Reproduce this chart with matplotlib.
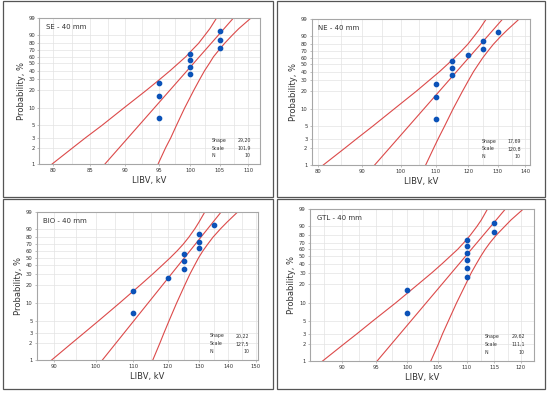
import numpy as np
import matplotlib.pyplot as plt
from matplotlib.patches import Rectangle

plt.rcParams['font.family'] = ['DejaVu Sans']

# plotting positions (median ranks, %) for the 10 points of every panel
prob_pts = [6.7, 16.3, 26.0, 35.6, 45.2, 54.8, 64.4, 74.0, 83.7, 93.3]

# measured LIBV values, kV
se_libv = [95, 95, 95, 100, 100, 100, 100, 105, 105, 105]
ne_libv = [110, 110, 110, 115, 115, 115, 120, 125, 125, 130]
bio_libv = [110, 110, 120, 125, 125, 125, 130, 130, 130, 135]
gtl_libv = [100, 100, 110, 110, 110, 110, 110, 110, 115, 115]

# fitted line, kV at 1 % and at 99 %
se_fit = [87.0, 107.3]
ne_fit = [93.2, 131.7]
bio_fit = [101.6, 137.5]
gtl_fit = [95.2, 117.0]

# 95 % confidence band (kV) at these probability levels (%)
band_p = [1, 2, 3, 5, 10, 20, 30, 40, 50, 60, 70, 80, 90, 95, 99]
se_lo = [79.8, 82.6, 84.3, 86.6, 89.7, 93.1, 95.2, 96.8, 98.1, 99.3, 100.3, 101.4, 102.5, 103.3, 104.4]
se_hi = [94.9, 96.1, 96.9, 97.8, 99.1, 100.6, 101.6, 102.4, 103.2, 103.9, 104.8, 105.8, 107.2, 108.3, 110.4]
ne_lo = [81.1, 85.9, 88.8, 92.7, 98.2, 104.3, 108.1, 111.1, 113.5, 115.7, 117.8, 119.9, 122.1, 123.7, 126.0]
ne_hi = [107.0, 109.3, 110.7, 112.6, 115.2, 118.2, 120.2, 121.8, 123.4, 124.9, 126.6, 128.5, 131.3, 133.6, 137.7]
bio_lo = [89.3, 94.0, 96.9, 100.7, 106.1, 111.9, 115.6, 118.4, 120.8, 122.9, 124.8, 126.6, 128.6, 129.9, 131.9]
bio_hi = [115.5, 117.6, 118.8, 120.4, 122.7, 125.3, 127.0, 128.5, 129.8, 131.2, 132.8, 134.6, 137.3, 139.5, 143.4]
gtl_lo = [87.2, 90.3, 92.2, 94.6, 98.1, 101.7, 104.0, 105.7, 107.1, 108.4, 109.5, 110.6, 111.8, 112.6, 113.7]
gtl_hi = [103.8, 105.1, 105.8, 106.8, 108.2, 109.8, 110.8, 111.7, 112.5, 113.3, 114.2, 115.3, 116.9, 118.1, 120.4]

titles = ['SE - 40 mm', 'NE - 40 mm', 'BIO - 40 mm', 'GTL - 40 mm']
shapes = ['29,20', '17,69', '20,22', '29,62']
scales = ['101,9', '120,8', '127,5', '111,1']
n_vals = ['10', '10', '10', '10']

se_ticks = [80, 85, 90, 95, 100, 105, 110]
ne_ticks = [80, 90, 100, 110, 120, 130, 140]
bio_ticks = [90, 100, 110, 120, 130, 140, 150]
gtl_ticks = [90, 95, 100, 105, 110, 115, 120]
y_ticks = [1, 2, 3, 5, 10, 20, 30, 40, 50, 60, 70, 80, 90, 99]


# Weibull probability scale
def fwd(p):
    p = np.clip(np.asarray(p, dtype=float), 1e-6, 100 - 1e-6)
    return np.log(-np.log(1 - p / 100.0))


def inv(w):
    return 100.0 * (1 - np.exp(-np.exp(w)))


red = '#dc4a4a'
blue = '#0b52b8'
grey = '#a6a6a6'

fig = plt.figure(figsize=(5.5, 3.94), dpi=100)

# panel frames (figure pixels: x0, y0_top, x1, y1_bottom)
frames = [(2.7, 1, 273.3, 196.7), (276.7, 1, 545, 196.7),
          (2.7, 199, 272.7, 388.7), (277, 199, 545, 388.7)]
for x0, y0, x1, y1 in frames:
    fig.patches.append(Rectangle((x0 / 550, 1 - y1 / 394), (x1 - x0) / 550, (y1 - y0) / 394,
                                 transform=fig.transFigure, fill=False,
                                 edgecolor='#555555', linewidth=0.9))

axes_rects = [(0.0715, 0.583, 0.4013, 0.3706), (0.5667, 0.5812, 0.3969, 0.3698),
              (0.0667, 0.0855, 0.4029, 0.3772), (0.5636, 0.083, 0.4078, 0.3858)]
xlims = [(78.2, 112.1), (78.6, 141.9), (86.05, 151), (85.5, 122.6)]
xticks = [se_ticks, ne_ticks, bio_ticks, gtl_ticks]
xsteps = [2.5, 5, 5, 2.5]
libv = [se_libv, ne_libv, bio_libv, gtl_libv]
fits = [se_fit, ne_fit, bio_fit, gtl_fit]
bands = [(se_lo, se_hi), (ne_lo, ne_hi), (bio_lo, bio_hi), (gtl_lo, gtl_hi)]

for i in range(4):
    ax = fig.add_axes(axes_rects[i])
    ax.set_xscale('log')
    ax.set_yscale('function', functions=(fwd, inv))
    ax.set_xlim(*xlims[i])
    ax.set_ylim(1, 99)

    # grid
    g = np.arange(xticks[i][0] - 10, xticks[i][-1] + 10, xsteps[i])
    g = g[(g > xlims[i][0]) & (g < xlims[i][1])]
    for gx in g:
        ax.axvline(gx, color='#e3e3e3', lw=0.5, zorder=0)
    for gy in y_ticks[1:-1]:
        ax.axhline(gy, color='#e3e3e3', lw=0.5, zorder=0)

    lo, hi = bands[i]
    ax.plot(lo, band_p, color=red, lw=0.8, zorder=2)
    ax.plot(hi, band_p, color=red, lw=0.8, zorder=2)
    ax.plot(fits[i], [1, 99], color=red, lw=0.8, zorder=2)
    ax.plot(libv[i], prob_pts, 'o', color=blue, ms=3.1, mec=blue, zorder=3)

    ax.set_xticks(xticks[i])
    ax.set_xticklabels([str(t) for t in xticks[i]])
    ax.xaxis.set_minor_locator(plt.NullLocator())
    ax.set_yticks(y_ticks)
    ax.set_yticklabels([str(t) for t in y_ticks])
    ax.yaxis.set_minor_locator(plt.NullLocator())
    ax.tick_params(labelsize=3.8, length=1.5, width=0.5, color=grey, pad=1.5,
                   labelcolor='#333333')
    for s in ax.spines.values():
        s.set_color(grey)
        s.set_linewidth(0.8)

    ax.set_xlabel('LIBV, kV', fontsize=6, color='#333333', labelpad=2)
    ax.set_ylabel('Probability, %', fontsize=6, color='#333333', labelpad=2)

    ax.text(0.03, 0.94, titles[i], transform=ax.transAxes, fontsize=5,
            color='#333333', va='center', ha='left')
    rows = [('Shape', shapes[i]), ('Scale', scales[i]), ('N', n_vals[i])]
    for k, (lab, val) in enumerate(rows):
        yy = 0.164 - k * 0.053
        ax.text(0.78, yy, lab, transform=ax.transAxes, fontsize=3.4,
                color='#333333', va='center', ha='left')
        ax.text(0.958, yy, val, transform=ax.transAxes, fontsize=3.4,
                color='#333333', va='center', ha='right')

fig.savefig('out.png', dpi=100)
